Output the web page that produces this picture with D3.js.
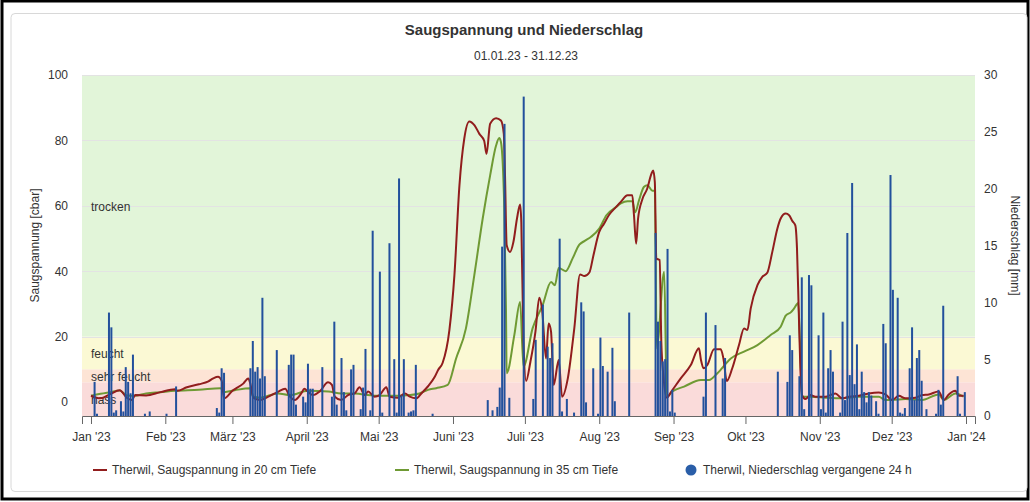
<!DOCTYPE html>
<html>
<head>
<meta charset="utf-8">
<script src="https://cdn.jsdelivr.net/npm/d3@7"></script>
<style>
    body { margin: 0; background: #fff; }
    svg text { font-family: "Liberation Sans", Arial, sans-serif; }
</style>
</head>
<body>
<svg id="chart"></svg>
<script>
// Monatsbeschriftung der x-Achse
const monthLabels = ["Jan '23", "Feb '23", "März '23", "April '23", "Mai '23", "Juni '23", "Juli '23",
    "Aug '23", "Sep '23", "Okt '23", "Nov '23", "Dez '23", "Jan '24"];

// Bereiche der Saugspannung [cbar]
const bandNames = ['nass', 'sehr feucht', 'feucht', 'trocken'];
const bandLimits = [-4.3, 6, 10, 20, 100];

const leftTicks = [0, 20, 40, 60, 80, 100];
const rightTicks = [0, 5, 10, 15, 20, 25, 30];

const legendLabels = ['Therwil, Saugspannung in 20 cm Tiefe', 'Therwil, Saugspannung in 35 cm Tiefe',
    'Therwil, Niederschlag vergangene 24 h'];

// [Tag seit 01.01.23, cbar]
const saug20 = [[0,1.9],[4,1.1],[8,2.4],[12,3.6],[15,1.2],[17,0.6],[18.5,2.1],[23,2.0],[29,3.0],[35,3.9],[36,3.4],
    [40,4.5],[45,5.4],[49,6.3],[51,7.2],[53,7.7],[54.5,6.5],[55.5,1.1],[59,3.4],[63.5,5.6],[65.6,7.2],[66.5,5.5],
    [67.7,1.3],[70.5,0.6],[74,1.6],[78,3.1],[81,4.0],[83,1.6],[85,0.6],[87.7,2.6],[89,4.0],[90.5,3.1],[92.6,2.1],
    [95.4,3.2],[98.9,6.0],[100.5,5.2],[101.7,1.6],[104.4,0.6],[107.2,2.1],[110,2.6],[112,4.5],[114.2,2.1],[115.6,3.2],
    [118.3,1.6],[120.4,2.1],[123.2,4.5],[124.6,1.6],[128,1.3],[131,2.6],[133,1.6],[135.7,1.1],[137.8,2.6],[140.6,4.8],
    [143.4,7.7],[144.8,9.8],[146.7,12],[149.5,22],[151.6,38.8],[153.7,66.3],[155.7,80.5],[157.8,85.8],[160,84.6],
    [162,82],[164,79.9],[165,75.9],[166.5,85.1],[169,86.8],[171,86.1],[172.2,82],[172.7,69.3],[173.4,47.9],
    [174.8,45.9],[176.2,48.9],[177.7,56.1],[179,60.4],[179.5,55],[180.4,18.4],[181.5,6.4],[183.3,12.3],[185.4,21.5],
    [187,31.9],[188.2,28],[189.8,13.3],[190.9,24],[191.9,21.5],[193,5.2],[195.1,12.8],[196.5,1.6],[198.9,7.2],
    [201.6,22.5],[204,39],[205.8,38.5],[207.9,39.6],[209.6,44.9],[212,52],[214,54.5],[216,57.1],[219,59.6],[221,61.2],
    [223.8,63.2],[225.8,63.2],[226.5,57.1],[227.4,48.4],[228.2,56.1],[230,62],[232,65.2],[233.8,69.8],[234.5,70.8],
    [235.2,67.2],[235.8,43.9],[237.2,43.4],[237.9,18.4],[238.8,7.7],[240.2,1.3],[242.1,3.2],[246,7.2],[250.2,11.3],
    [253.6,16.4],[254.4,13],[255.5,10.3],[257.1,11.3],[259.9,16.1],[262.7,16.1],[263.8,13.3],[265.2,6.4],[267.5,10.3],
    [270.3,17.4],[272.4,22.5],[273.8,22],[275.2,28.6],[278,35.7],[280.1,38.3],[282.1,39.5],[284.2,45.9],[286.3,53],
    [287.7,56.1],[289.8,57.6],[291.2,57.1],[292.6,55.3],[293.8,54],[294.5,46.9],[295.2,28.6],[295.9,10.3],[296.6,2.1],
    [298,0.9],[300.1,2.1],[302.2,1.6],[306.3,1.6],[310.5,2.6],[313.3,1.1],[316.1,1.6],[320.3,1.9],[324.4,2.6],
    [328.6,2.9],[331.4,2.3],[334.2,0.6],[337,1.9],[339.7,1.1],[343.9,1.3],[346.7,2.1],[349.5,2.3],[353.6,3.2],
    [355.7,0.6],[357.8,2.3],[360.6,3.4],[362,1.9],[364,1.9]];

const saug35 = [[0,1.9],[4,2.5],[8,3.0],[12,3.5],[15,2.0],[18,1.9],[23,2.6],[29,3.0],[35,3.4],[45,3.7],[54,4.2],
    [55.5,3.0],[60,3.6],[66.5,4.2],[67.7,1.6],[70.5,1.3],[78,2.6],[83,2.1],[90.5,3.4],[99,3.2],[104.4,2.6],[110,2.6],
    [118.3,1.9],[128,1.9],[133,2.1],[137,2.6],[140.6,3.7],[144,4.2],[148.8,5.2],[152.3,13.3],[156.4,22.5],[159.9,38.8],
    [163.4,56.1],[166.5,69.3],[169,78.5],[170.3,80.7],[171,79.5],[172.4,59.1],[173.1,28.6],[173.4,8.8],[176.6,20.5],
    [179,30.6],[180.4,10.8],[184.2,22.5],[188.4,29.6],[191.9,36.7],[193.5,35.7],[195.1,41],[198,40],[200.9,43.9],
    [203.7,48.1],[205.8,49.2],[208.6,50.5],[212,53],[215,57.1],[219,59.6],[221,60.7],[223.8,61.4],[225.8,61.4],
    [227,58],[228.6,61.7],[230.7,65.8],[232.1,66.3],[234.2,64.6],[235.2,64.6],[236,16.4],[239.1,39.8],[240.2,1.6],
    [242.5,3.2],[247.4,4.7],[254.4,6.7],[257.8,6.7],[261.3,8.8],[266.9,13.3],[272.4,15.4],[278,17.4],[283.5,20.5],
    [287.7,23],[289.8,26.4],[291.9,27.4],[293.3,28.6],[295,30.3],[295.9,15],[296.6,1.6],[300,1.6],[306.3,1.3],
    [313.3,1.1],[320.3,1.6],[328.6,1.6],[331.4,0.6],[334.2,0.6],[339.7,0.9],[346.7,0.6],[353.6,2.3],[355.7,0.6],
    [360.6,2.6],[364,1.6]];

// [Tag seit 01.01.23, mm]
const niederschlag = [[1,3.0],[2,0.2],[7,9.1],[8,7.8],[9,0.3],[10,0.5],[12,1.3],[13,0.4],[14,4.3],[15,3.0],[16,2.0],
    [17,5.4],[22,0.2],[24,0.4],[31,0.2],[35,2.6],[52,0.7],[53,0.3],[54,4.2],[55,3.8],[66,4.2],[67,6.6],[68,3.9],
    [69,4.3],[70,3.3],[71,10.4],[72,3.5],[77,5.8],[82,4.5],[83,5.4],[84,5.4],[85,1.0],[88,1.7],[89,1.2],[90,4.6],
    [91,2.4],[92,2.4],[96,4.3],[100,1.7],[101,8.3],[102,1.0],[104,5.1],[105,2.1],[106,0.5],[108,4.1],[109,4.5],
    [112,0.6],[113,2.5],[114,5.9],[116,0.5],[117,16.3],[120,12.7],[121,0.3],[124,15.2],[126,5.0],[127,0.3],[128,20.9],
    [129,1.8],[130,5.0],[132,0.3],[133,0.4],[134,0.5],[135,4.5],[142,0.2],[165,1.4],[167,0.5],[169,0.8],[170,2.5],
    [171,14.9],[172,25.7],[174,1.6],[180,28.1],[184,1.5],[185,6.7],[188,9.8],[190,6.1],[191,5.1],[192,6.4],[195,15.6],
    [196,0.4],[198,1.5],[201,0.3],[204,10.0],[205,9.2],[206,1.2],[209,4.2],[211,0.2],[212,6.9],[213,4.4],[215,3.9],
    [217,6.0],[218,1.3],[224,9.1],[235,16.1],[236,8.3],[237,6.6],[238,4.8],[239,5.0],[240,14.7],[241,0.4],[242,2.3],
    [243,0.3],[255,1.7],[256,9.1],[260,8.0],[263,3.3],[264,5.1],[286,3.9],[290,3.0],[291,7.1],[292,5.8],[295,3.5],
    [296,12.2],[297,0.6],[299,12.4],[300,11.5],[303,7.1],[304,0.6],[305,9.1],[306,0.3],[307,4.2],[308,5.8],[309,3.9],
    [312,0.3],[313,8.3],[314,1.4],[315,16.1],[316,3.6],[317,20.5],[318,2.8],[319,6.3],[320,0.6],[321,3.9],[322,2.1],
    [323,1.2],[324,2.1],[325,1.8],[327,1.3],[328,0.2],[330,8.1],[331,6.4],[333,21.2],[334,11.1],[336,10.4],[337,0.3],
    [338,0.2],[339,0.7],[341,4.2],[342,7.8],[343,1.4],[344,5.1],[345,5.8],[346,3.1],[348,0.6],[352,0.2],[353,2.3],
    [354,1.0],[355,9.7],[361,3.5],[362,0.2],[364,2.1]];


class SaugspannungChart {

    constructor(_config) {
        this.config = {
            parentElement: _config.parentElement,
            containerWidth: 1030,
            containerHeight: 502,
            margin: {top: 75, right: 55, bottom: 86, left: 82}
        }
        this.initVis();
    }

    initVis() {
        let vis = this;

        vis.width = vis.config.containerWidth - vis.config.margin.left - vis.config.margin.right;
        vis.height = vis.config.containerHeight - vis.config.margin.top - vis.config.margin.bottom;

        let start = new Date(2023, 0, 1);
        vis.toDate = d => new Date(start.getTime() + d * 86400000);

        vis.xScale = d3.scaleTime()
            .domain([vis.toDate(-3.75), vis.toDate(368.75)])
            .range([0, vis.width]);

        vis.yScale = d3.scaleLinear()
            .domain([bandLimits[0], 100])
            .range([vis.height, 0]);

        vis.yScaleRight = d3.scaleLinear()
            .domain([0, 30])
            .range([vis.height, 0]);

        vis.svg = d3.select(vis.config.parentElement)
            .attr('width', vis.config.containerWidth)
            .attr('height', vis.config.containerHeight);

        // Rahmen vom Screenshot
        vis.svg.append('rect')
            .attr('x', 2).attr('y', 1)
            .attr('width', vis.config.containerWidth - 4)
            .attr('height', vis.config.containerHeight - 4)
            .attr('fill', 'none')
            .attr('stroke', '#000')
            .attr('stroke-width', 3);
        vis.svg.append('rect')
            .attr('x', 11).attr('y', 13.5)
            .attr('width', 1016).attr('height', 478)
            .attr('rx', 4)
            .attr('fill', '#fff')
            .attr('stroke', '#d8d8d8');

        vis.svg.append('text')
            .attr('x', 524).attr('y', 35)
            .attr('text-anchor', 'middle')
            .style('font-size', '15px')
            .style('font-weight', 'bold')
            .attr('fill', '#333')
            .text('Saugspannung und Niederschlag');

        vis.svg.append('text')
            .attr('x', 526).attr('y', 60)
            .attr('text-anchor', 'middle')
            .style('font-size', '12px')
            .attr('fill', '#333')
            .text('01.01.23 - 31.12.23');

        vis.chart = vis.svg.append('g')
            .attr('transform', `translate(${vis.config.margin.left},${vis.config.margin.top})`);

        vis.svg.append('defs').append('clipPath')
            .attr('id', 'plot-clip')
            .append('rect')
            .attr('width', vis.width)
            .attr('height', vis.height);

        vis.renderVis();
    }

    renderVis() {
        let vis = this;
        const bandColors = ['#fadbda', '#fde4d5', '#fbf9d4', '#e2f5d9'];

        let bands = bandNames.map((name, i) => ({name: name, from: bandLimits[i], to: bandLimits[i + 1]}));

        vis.chart.selectAll('.band')
            .data(bands)
            .join('rect')
            .attr('class', 'band')
            .attr('x', 0)
            .attr('width', vis.width)
            .attr('y', d => vis.yScale(d.to))
            .attr('height', d => vis.yScale(d.from) - vis.yScale(d.to))
            .attr('fill', (d, i) => bandColors[i]);

        // Gitterlinien
        vis.chart.selectAll('.grid')
            .data(leftTicks.slice(1))
            .join('line')
            .attr('class', 'grid')
            .attr('x1', 0).attr('x2', vis.width)
            .attr('y1', d => Math.round(vis.yScale(d)) + 0.5)
            .attr('y2', d => Math.round(vis.yScale(d)) + 0.5)
            .attr('stroke', '#e3e3e3');

        vis.chart.selectAll('.band-label')
            .data(bands)
            .join('text')
            .attr('class', 'band-label')
            .attr('x', 9)
            .attr('y', d => (vis.yScale(d.from) + vis.yScale(d.to)) / 2 + 5)
            .style('font-size', '12px')
            .attr('fill', '#333')
            .text(d => d.name);

        let line = d3.line()
            .x(d => vis.xScale(vis.toDate(d[0])))
            .y(d => vis.yScale(d[1]))
            .curve(d3.curveMonotoneX);

        let plot = vis.chart.append('g').attr('clip-path', 'url(#plot-clip)');

        plot.append('path')
            .datum(saug35)
            .attr('d', line)
            .attr('fill', 'none')
            .attr('stroke', '#6f9a34')
            .attr('stroke-width', 2);

        plot.append('path')
            .datum(saug20)
            .attr('d', line)
            .attr('fill', 'none')
            .attr('stroke', '#911d1d')
            .attr('stroke-width', 2);

        plot.selectAll('.bar')
            .data(niederschlag)
            .join('rect')
            .attr('class', 'bar')
            .attr('x', d => vis.xScale(vis.toDate(d[0] + 0.5)) - 1)
            .attr('width', 2)
            .attr('y', d => vis.yScaleRight(d[1]))
            .attr('height', d => vis.height - vis.yScaleRight(d[1]))
            .attr('fill', '#22509c');

        // Achsen
        let monthTicks = d3.timeMonth.range(new Date(2023, 0, 1), new Date(2024, 0, 2));
        vis.xAxis = d3.axisBottom(vis.xScale)
            .tickValues(monthTicks)
            .tickSize(8)
            .tickPadding(8)
            .tickFormat((d, i) => monthLabels[i]);

        vis.yAxis = d3.axisLeft(vis.yScale)
            .tickValues(leftTicks)
            .tickSize(0)
            .tickPadding(14);

        vis.yAxisRight = d3.axisRight(vis.yScaleRight)
            .tickValues(rightTicks)
            .tickSize(0)
            .tickPadding(9);

        let xAxisG = vis.chart.append('g')
            .attr('class', 'x-axis')
            .attr('transform', `translate(0,${vis.height})`)
            .call(vis.xAxis);
        xAxisG.select('.domain').attr('stroke', '#666');
        xAxisG.selectAll('.tick line').attr('stroke', '#666');

        let yAxisG = vis.chart.append('g')
            .attr('class', 'y-axis')
            .call(vis.yAxis)
            .call(g => g.select('.domain').remove());

        let yAxisRightG = vis.chart.append('g')
            .attr('class', 'y-axis-right')
            .attr('transform', `translate(${vis.width},0)`)
            .call(vis.yAxisRight)
            .call(g => g.select('.domain').remove());

        vis.chart.selectAll('.tick text')
            .style('font-size', '12px')
            .style('font-family', '"Liberation Sans", Arial, sans-serif')
            .attr('fill', '#333');

        vis.chart.append('text')
            .attr('transform', `translate(${-43},${vis.height / 2}) rotate(-90)`)
            .attr('text-anchor', 'middle')
            .style('font-size', '12px')
            .attr('fill', '#333')
            .text('Saugspannung [cbar]');

        vis.chart.append('text')
            .attr('transform', `translate(${vis.width + 36},${vis.height / 2}) rotate(90)`)
            .attr('text-anchor', 'middle')
            .style('font-size', '12px')
            .attr('fill', '#333')
            .text('Niederschlag [mm]');

        // Legende
        let legend = vis.svg.append('g').attr('transform', 'translate(0,470)');
        let legendX = [93, 395, 684];
        let legendColors = ['#911d1d', '#6f9a34', '#22509c'];

        legendLabels.forEach((label, i) => {
            let item = legend.append('g').attr('transform', `translate(${legendX[i]},0)`);
            if (i < 2) {
                item.append('line')
                    .attr('x1', 0).attr('x2', 14)
                    .attr('stroke', legendColors[i])
                    .attr('stroke-width', 2);
            } else {
                item.append('circle')
                    .attr('cx', 7).attr('r', 5.5)
                    .attr('fill', '#2a5ea8');
            }
            item.append('text')
                .attr('x', 19).attr('y', 4)
                .style('font-size', '12px')
                .attr('fill', '#333')
                .text(label);
        });
    }
}

let chart = new SaugspannungChart({parentElement: '#chart'});
</script>
</body>
</html>
